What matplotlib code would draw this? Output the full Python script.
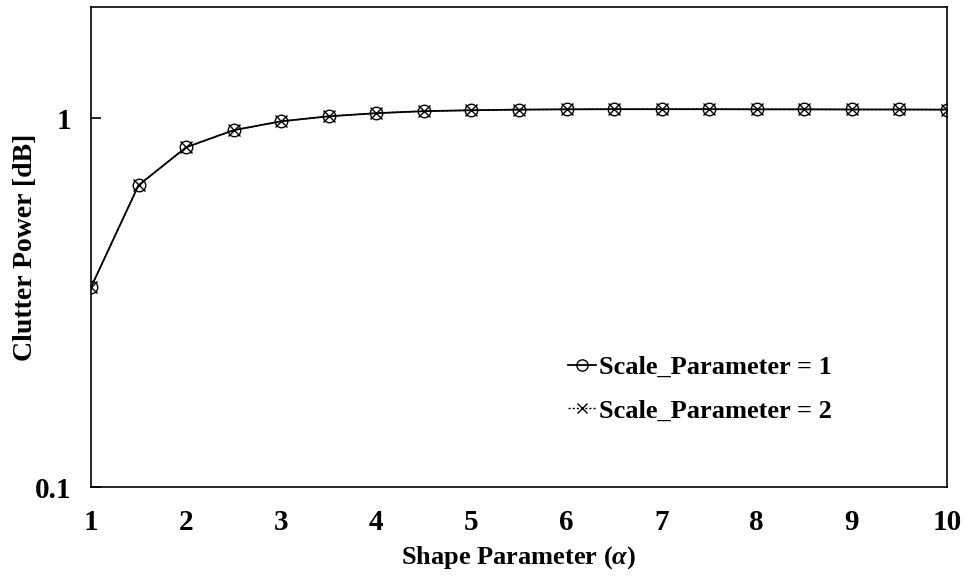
import matplotlib
matplotlib.use("Agg")
import matplotlib.pyplot as plt
from matplotlib.ticker import FixedLocator, NullLocator

plt.rcParams['font.family'] = ['Liberation Serif', 'DejaVu Serif']
plt.rcParams['font.weight'] = 'bold'
plt.rcParams['mathtext.fontset'] = 'custom'
plt.rcParams['mathtext.it'] = 'Liberation Serif:italic:bold'
plt.rcParams['mathtext.rm'] = 'Liberation Serif:bold'

# shape parameter alpha
alpha = [1, 1.5, 2, 2.5, 3, 3.5, 4, 4.5, 5, 5.5, 6, 6.5, 7, 7.5, 8, 8.5, 9, 9.5, 10]
# clutter power, scale = 1
power_s1 = [0.348, 0.658, 0.834, 0.928, 0.981, 1.012, 1.032, 1.045, 1.051, 1.055,
            1.057, 1.058, 1.058, 1.058, 1.057, 1.057, 1.056, 1.056, 1.055]
# clutter power, scale = 2
power_s2 = [0.348, 0.658, 0.834, 0.928, 0.981, 1.012, 1.032, 1.045, 1.051, 1.055,
            1.057, 1.058, 1.058, 1.058, 1.057, 1.057, 1.056, 1.056, 1.055]

fig = plt.figure(figsize=(9.65, 5.76), dpi=100)
ax = fig.add_axes([0.0943, 0.1545, 0.887, 0.833])

ax.plot(alpha, power_s1, color='black', lw=1.3, marker='o', ms=9,
        mfc='none', mec='black', mew=1.0, label='Scale_Parameter = 1')
ax.plot(alpha, power_s2, color='black', lw=1.0, ls=(0, (1.5, 1.5)), marker='x', ms=8,
        mec='black', mew=1.0, label='Scale_Parameter = 2')

ax.set_yscale('log')
ax.set_ylim(0.1, 2)
ax.set_xlim(1, 10)
ax.yaxis.set_major_locator(FixedLocator([0.1, 1]))
ax.yaxis.set_minor_locator(NullLocator())
ax.set_yticklabels(['0.1', '1'])
ax.set_xticks(range(1, 11))

ax.tick_params(axis='x', length=0, labelsize=21, pad=16)
ax.tick_params(axis='y', direction='in', length=7, width=1.2, labelsize=21, pad=14)
for lab in ax.get_xticklabels() + ax.get_yticklabels():
    lab.set_fontweight('bold')

for s in ax.spines.values():
    s.set_linewidth(1.2)

ax.set_xlabel('Shape Parameter ($\\alpha$)', fontsize=19, fontweight='bold', labelpad=6)
# y label placed by hand so it stays inside the figure
fig.text(26 / 965, 1 - 247 / 576, 'Clutter Power [dB]', rotation=90, fontsize=20,
         fontweight='bold', ha='center', va='center')

leg = ax.legend(loc='lower right', bbox_to_anchor=(0.893, 0.085), frameon=False,
                handlelength=1.05, handletextpad=0.1, labelspacing=0.75,
                prop={'weight': 'bold', 'size': 19}, markerscale=0.9)

fig.savefig('out.png', dpi=100)
